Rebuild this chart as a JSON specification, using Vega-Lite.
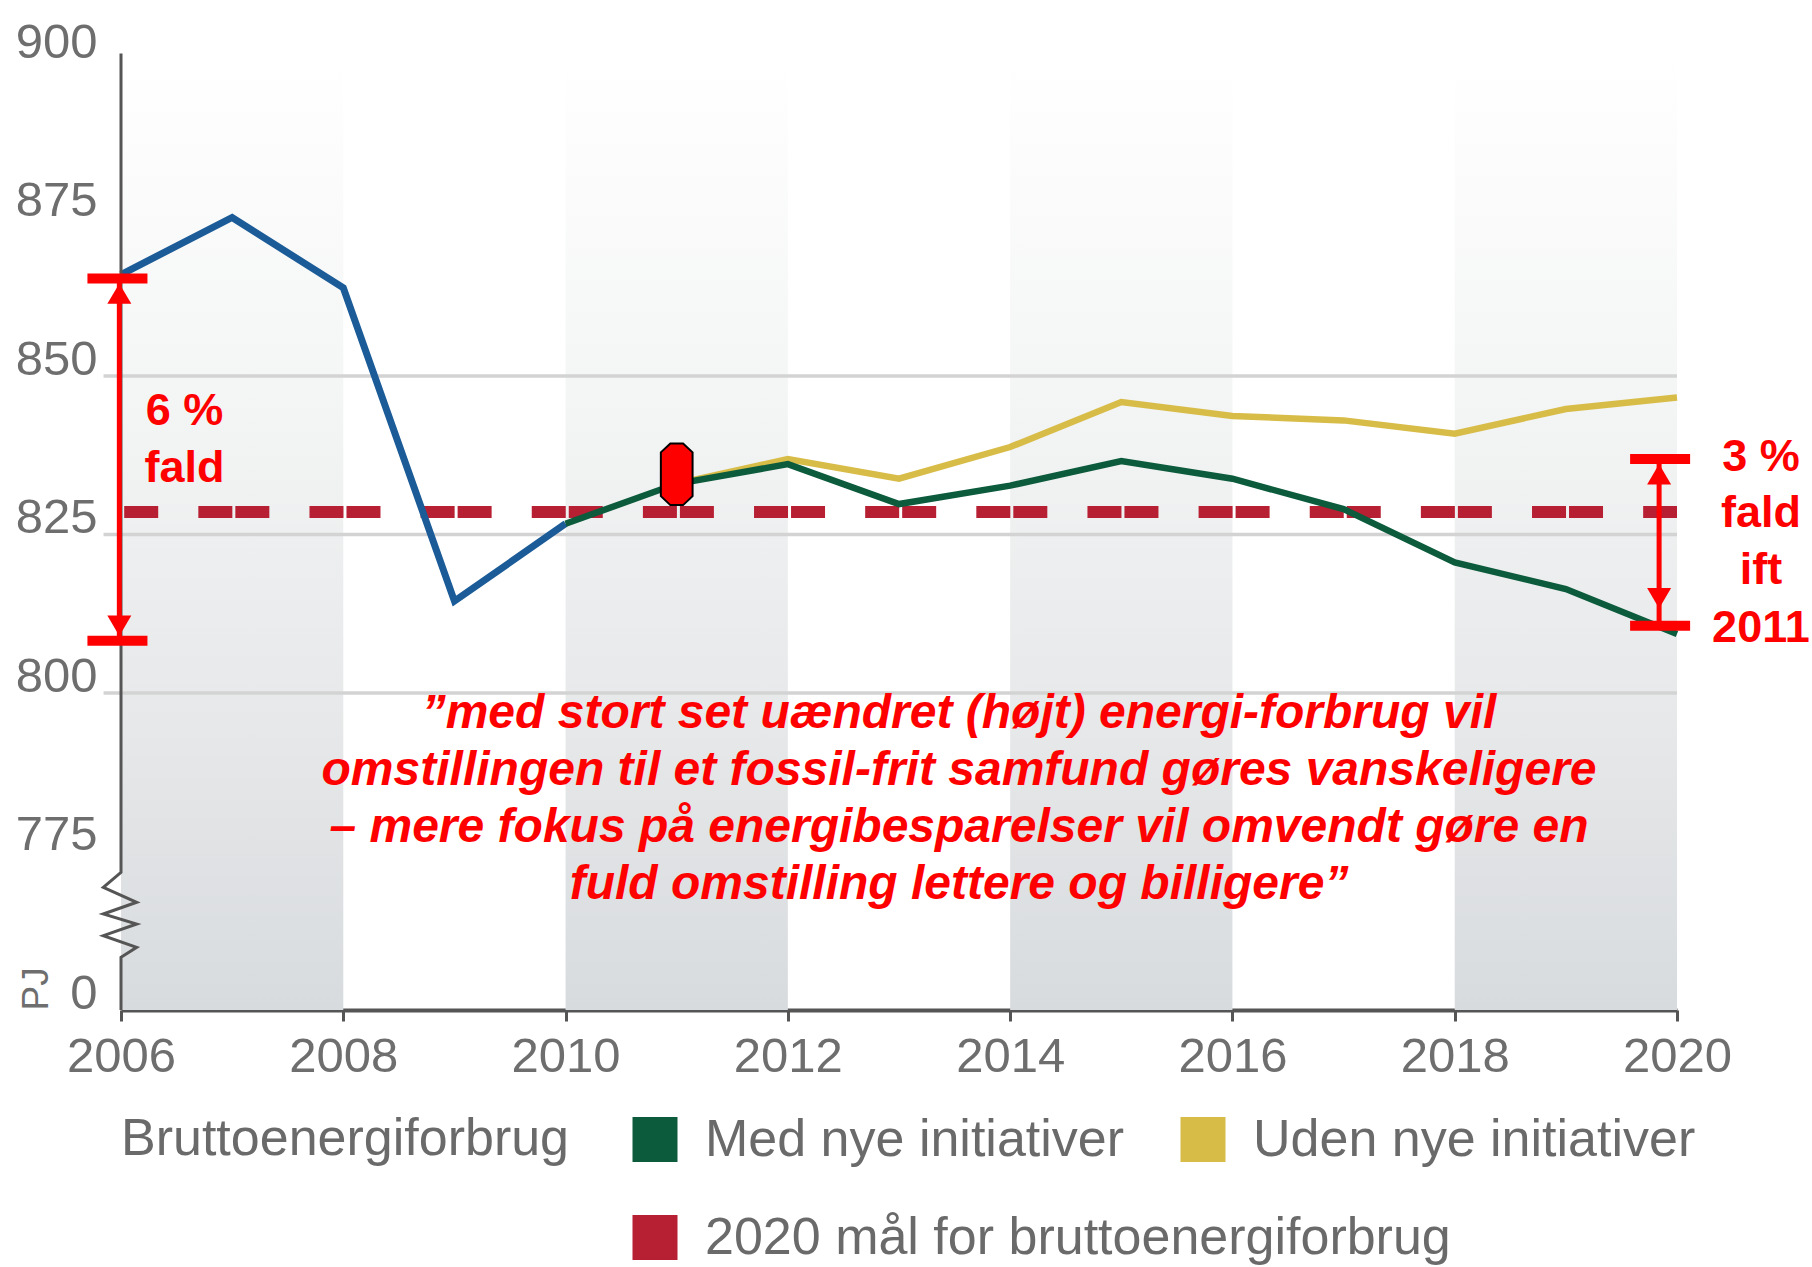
{
  "$schema": "https://vega.github.io/schema/vega-lite/v6.json",
  "width": 1556,
  "height": 951,
  "autosize": {"type": "none"},
  "padding": {"left": 121, "top": 59, "right": 135, "bottom": 257},
  "background": "#ffffff",
  "config": {"view": {"stroke": null}},
  "layer": [
    {
      "data": {"values": [{"start": 2006, "end": 2008}, {"start": 2010, "end": 2012}, {"start": 2014, "end": 2016}, {"start": 2018, "end": 2020}]},
      "mark": {"type": "rect", "fill": {"gradient": "linear", "x1": 0, "y1": 0, "x2": 0, "y2": 1, "stops": [{"offset": 0, "color": "#ffffff"}, {"offset": 0.35, "color": "#f4f5f5"}, {"offset": 0.7, "color": "#e6e8e9"}, {"offset": 1, "color": "#d8dbde"}]}},
      "encoding": {
        "x": {"field": "start", "type": "quantitative", "scale": {"domain": [2006, 2020], "nice": false, "zero": false}},
        "x2": {"field": "end"},
        "y": {"datum": 750, "type": "quantitative", "scale": {"domain": [750, 900], "nice": false, "zero": false}},
        "y2": {"datum": 900}
      }
    },
    {
      "data": {"values": [{"v": 800}, {"v": 825}, {"v": 850}]},
      "mark": {"type": "rule", "color": "#d3d3d3", "strokeWidth": 3.5},
      "encoding": {
        "x": {"datum": 2005.843, "type": "quantitative", "scale": {"domain": [2006, 2020], "nice": false, "zero": false}},
        "x2": {"datum": 2020},
        "y": {"field": "v", "type": "quantitative", "scale": {"domain": [750, 900], "nice": false, "zero": false}}
      }
    },
    {
      "data": {"values": [{"serie": "2020 mål for bruttoenergiforbrug", "v": 828.55}]},
      "mark": {"type": "rule", "strokeWidth": 12, "strokeDash": [34, 3, 34, 40.14], "strokeDashOffset": 33.8},
      "encoding": {
        "x": {"datum": 2006, "type": "quantitative", "scale": {"domain": [2006, 2020], "nice": false, "zero": false}},
        "x2": {"datum": 2020},
        "y": {"field": "v", "type": "quantitative", "scale": {"domain": [750, 900], "nice": false, "zero": false}},
        "stroke": {"field": "serie", "type": "nominal", "scale": {"domain": ["2020 mål for bruttoenergiforbrug"], "range": ["#b71f33"]},
          "legend": {"orient": "none", "legendX": 508, "legendY": 1152.5, "title": null, "padding": 0,
            "labelFont": "Liberation Sans, Arial, sans-serif", "labelFontSize": 52, "labelColor": "#6a6a6a", "labelOffset": 24, "labelLimit": 2000,
            "symbolType": "square", "symbolSize": 2025, "symbolStrokeWidth": 0,
            "encoding": {"symbols": {"fill": {"value": {"expr": "scale('stroke', datum.value)"}}, "strokeWidth": {"value": 0}, "opacity": {"value": 1}}}}}
      }
    },
    {
      "data": {"values": [{"year": 2006, "v": 866.0}, {"year": 2007, "v": 875.0}, {"year": 2008, "v": 863.9}, {"year": 2009, "v": 814.5}, {"year": 2010, "v": 826.7}]},
      "mark": {"type": "line", "color": "#1b5b97", "strokeWidth": 7},
      "encoding": {
        "x": {"field": "year", "type": "quantitative", "scale": {"domain": [2006, 2020], "nice": false, "zero": false},
          "axis": {"values": [2006, 2008, 2010, 2012, 2014, 2016, 2018, 2020], "format": "d", "title": null, "grid": false, "domain": true, "domainColor": "#555555", "domainWidth": 4, "ticks": true, "tickSize": 11, "tickWidth": 3, "tickColor": "#555555", "labelFont": "Liberation Sans, Arial, sans-serif", "labelFontSize": 49, "labelColor": "#6e6e6e", "labelPadding": 11, "labelBaseline": "top", "labelFlush": false, "labelOverlap": false}},
        "y": {"field": "v", "type": "quantitative", "scale": {"domain": [750, 900], "nice": false, "zero": false},
          "axis": {"values": [750, 775, 800, 825, 850, 875, 900], "labelExpr": "datum.value == 750 ? '0' : datum.label", "domain": false, "ticks": false, "grid": false, "labelFont": "Liberation Sans, Arial, sans-serif", "labelFontSize": 49, "labelColor": "#6e6e6e", "labelPadding": 24, "labelBaseline": "alphabetic", "labelOffset": -2, "labelFlush": false, "labelOverlap": false,
            "title": "PJ", "titleAngle": 270, "titleX": -74, "titleY": 951, "titleAlign": "left", "titleBaseline": "alphabetic", "titleFont": "Liberation Sans, Arial, sans-serif", "titleFontSize": 37, "titleFontWeight": "normal", "titleColor": "#6e6e6e"}}
      }
    },
    {
      "data": {"values": [
        {"serie": "Uden nye initiativer", "year": 2011, "v": 833.0},
        {"serie": "Uden nye initiativer", "year": 2012, "v": 836.9},
        {"serie": "Uden nye initiativer", "year": 2013, "v": 833.8},
        {"serie": "Uden nye initiativer", "year": 2014, "v": 838.8},
        {"serie": "Uden nye initiativer", "year": 2015, "v": 845.9},
        {"serie": "Uden nye initiativer", "year": 2016, "v": 843.7},
        {"serie": "Uden nye initiativer", "year": 2017, "v": 843.0},
        {"serie": "Uden nye initiativer", "year": 2018, "v": 840.9},
        {"serie": "Uden nye initiativer", "year": 2019, "v": 844.8},
        {"serie": "Uden nye initiativer", "year": 2020, "v": 846.6},
        {"serie": "Med nye initiativer", "year": 2010, "v": 826.7},
        {"serie": "Med nye initiativer", "year": 2011, "v": 833.0},
        {"serie": "Med nye initiativer", "year": 2012, "v": 836.1},
        {"serie": "Med nye initiativer", "year": 2013, "v": 829.8},
        {"serie": "Med nye initiativer", "year": 2014, "v": 832.7},
        {"serie": "Med nye initiativer", "year": 2015, "v": 836.6},
        {"serie": "Med nye initiativer", "year": 2016, "v": 833.8},
        {"serie": "Med nye initiativer", "year": 2017, "v": 829.0},
        {"serie": "Med nye initiativer", "year": 2018, "v": 820.6},
        {"serie": "Med nye initiativer", "year": 2019, "v": 816.4},
        {"serie": "Med nye initiativer", "year": 2020, "v": 809.3}
      ]},
      "mark": {"type": "line", "strokeWidth": 6.5},
      "encoding": {
        "x": {"field": "year", "type": "quantitative", "scale": {"domain": [2006, 2020], "nice": false, "zero": false}},
        "y": {"field": "v", "type": "quantitative", "scale": {"domain": [750, 900], "nice": false, "zero": false}},
        "color": {"field": "serie", "type": "nominal", "scale": {"domain": ["Med nye initiativer", "Uden nye initiativer"], "range": ["#0c5b3d", "#d8bc48"]},
          "legend": {"orient": "none", "legendX": 0, "legendY": 1054.5, "direction": "horizontal", "padding": 0,
            "title": "Bruttoenergiforbrug", "titleOrient": "left", "titleAnchor": "start", "titlePadding": 59, "titleFont": "Liberation Sans, Arial, sans-serif", "titleFontSize": 52, "titleFontWeight": "normal", "titleColor": "#6a6a6a", "titleBaseline": "top", "titleLimit": 2000,
            "labelFont": "Liberation Sans, Arial, sans-serif", "labelFontSize": 52, "labelColor": "#6a6a6a", "labelOffset": 24, "labelLimit": 2000, "columnPadding": 52,
            "symbolType": "square", "symbolSize": 2025, "symbolStrokeWidth": 0,
            "encoding": {"symbols": {"fill": {"value": {"expr": "scale('color', datum.value)"}}, "strokeWidth": {"value": 0}, "opacity": {"value": 1}}}}}
      }
    },
    {
      "data": {"values": [
        {"i": 0, "x": 2006, "y": 900.85},
        {"i": 1, "x": 2006, "y": 771.7},
        {"i": 2, "x": 2005.841, "y": 769.35},
        {"i": 3, "x": 2006.141, "y": 766.99},
        {"i": 4, "x": 2005.841, "y": 765.14},
        {"i": 5, "x": 2006.141, "y": 763.56},
        {"i": 6, "x": 2005.841, "y": 761.72},
        {"i": 7, "x": 2006.141, "y": 759.89},
        {"i": 8, "x": 2006, "y": 758.31},
        {"i": 9, "x": 2006, "y": 750}
      ]},
      "mark": {"type": "line", "color": "#555555", "strokeWidth": 3},
      "encoding": {
        "x": {"field": "x", "type": "quantitative", "scale": {"domain": [2006, 2020], "nice": false, "zero": false}},
        "y": {"field": "y", "type": "quantitative", "scale": {"domain": [750, 900], "nice": false, "zero": false}},
        "order": {"field": "i", "type": "quantitative"}
      }
    },
    {
      "data": {"values": [
        {"x": 2005.698, "x2": 2006.238, "y": 865.38},
        {"x": 2005.698, "x2": 2006.238, "y": 808.25},
        {"x": 2019.578, "x2": 2020.118, "y": 836.91},
        {"x": 2019.578, "x2": 2020.118, "y": 810.6}
      ]},
      "mark": {"type": "rule", "color": "#ff0000", "strokeWidth": 10},
      "encoding": {
        "x": {"field": "x", "type": "quantitative", "scale": {"domain": [2006, 2020], "nice": false, "zero": false}},
        "x2": {"field": "x2"},
        "y": {"field": "y", "type": "quantitative", "scale": {"domain": [750, 900], "nice": false, "zero": false}}
      }
    },
    {
      "data": {"values": [
        {"x": 2005.985, "y": 865.38, "y2": 808.25},
        {"x": 2019.839, "y": 836.91, "y2": 810.6}
      ]},
      "mark": {"type": "rule", "color": "#ff0000", "strokeWidth": 5},
      "encoding": {
        "x": {"field": "x", "type": "quantitative", "scale": {"domain": [2006, 2020], "nice": false, "zero": false}},
        "y": {"field": "y", "type": "quantitative", "scale": {"domain": [750, 900], "nice": false, "zero": false}},
        "y2": {"field": "y2"}
      }
    },
    {
      "data": {"values": [{"x": 2005.985, "y": 863.0}, {"x": 2019.839, "y": 834.5}]},
      "mark": {"type": "point", "shape": "M0,-0.85L1,0.85L-1,0.85Z", "size": 576, "filled": true, "color": "#ff0000", "opacity": 1},
      "encoding": {
        "x": {"field": "x", "type": "quantitative", "scale": {"domain": [2006, 2020], "nice": false, "zero": false}},
        "y": {"field": "y", "type": "quantitative", "scale": {"domain": [750, 900], "nice": false, "zero": false}}
      }
    },
    {
      "data": {"values": [{"x": 2005.985, "y": 810.6}, {"x": 2019.839, "y": 814.95}]},
      "mark": {"type": "point", "shape": "M0,0.85L1,-0.85L-1,-0.85Z", "size": 576, "filled": true, "color": "#ff0000", "opacity": 1},
      "encoding": {
        "x": {"field": "x", "type": "quantitative", "scale": {"domain": [2006, 2020], "nice": false, "zero": false}},
        "y": {"field": "y", "type": "quantitative", "scale": {"domain": [750, 900], "nice": false, "zero": false}}
      }
    },
    {
      "data": {"values": [{"x": 2011, "y": 834.5}]},
      "mark": {"type": "point", "shape": "M-0.206,-1L0.206,-1L0.514,-0.71L0.514,0.71L0.206,1L-0.206,1L-0.514,0.71L-0.514,-0.71Z", "size": 3807, "filled": true, "fill": "#ff0000", "stroke": "#000000", "strokeWidth": 2, "opacity": 1},
      "encoding": {
        "x": {"field": "x", "type": "quantitative", "scale": {"domain": [2006, 2020], "nice": false, "zero": false}},
        "y": {"field": "y", "type": "quantitative", "scale": {"domain": [750, 900], "nice": false, "zero": false}}
      }
    },
    {
      "data": {"values": [
        {"t": "”med stort set uændret (højt) energi-forbrug vil", "x": 2013.54, "y": 794.48},
        {"t": "omstillingen til et fossil-frit samfund gøres vanskeligere", "x": 2013.54, "y": 785.49},
        {"t": "– mere fokus på energibesparelser vil omvendt gøre en", "x": 2013.54, "y": 776.5},
        {"t": "fuld omstilling lettere og billigere”", "x": 2013.54, "y": 767.5}
      ]},
      "mark": {"type": "text", "font": "Liberation Sans, Arial, sans-serif", "fontSize": 48, "fontWeight": "bold", "fontStyle": "italic", "color": "#ff0000", "align": "center", "baseline": "alphabetic"},
      "encoding": {
        "x": {"field": "x", "type": "quantitative", "scale": {"domain": [2006, 2020], "nice": false, "zero": false}},
        "y": {"field": "y", "type": "quantitative", "scale": {"domain": [750, 900], "nice": false, "zero": false}},
        "text": {"field": "t"}
      }
    },
    {
      "data": {"values": [
        {"t": "6 %", "x": 2006.571, "y": 842.27},
        {"t": "fald", "x": 2006.571, "y": 833.28},
        {"t": "3 %", "x": 2020.755, "y": 835.06},
        {"t": "fald", "x": 2020.755, "y": 826.26},
        {"t": "ift", "x": 2020.755, "y": 817.19},
        {"t": "2011", "x": 2020.755, "y": 808.04}
      ]},
      "mark": {"type": "text", "font": "Liberation Sans, Arial, sans-serif", "fontSize": 45, "fontWeight": "bold", "color": "#ff0000", "align": "center", "baseline": "alphabetic"},
      "encoding": {
        "x": {"field": "x", "type": "quantitative", "scale": {"domain": [2006, 2020], "nice": false, "zero": false}},
        "y": {"field": "y", "type": "quantitative", "scale": {"domain": [750, 900], "nice": false, "zero": false}},
        "text": {"field": "t"}
      }
    }
  ]
}
